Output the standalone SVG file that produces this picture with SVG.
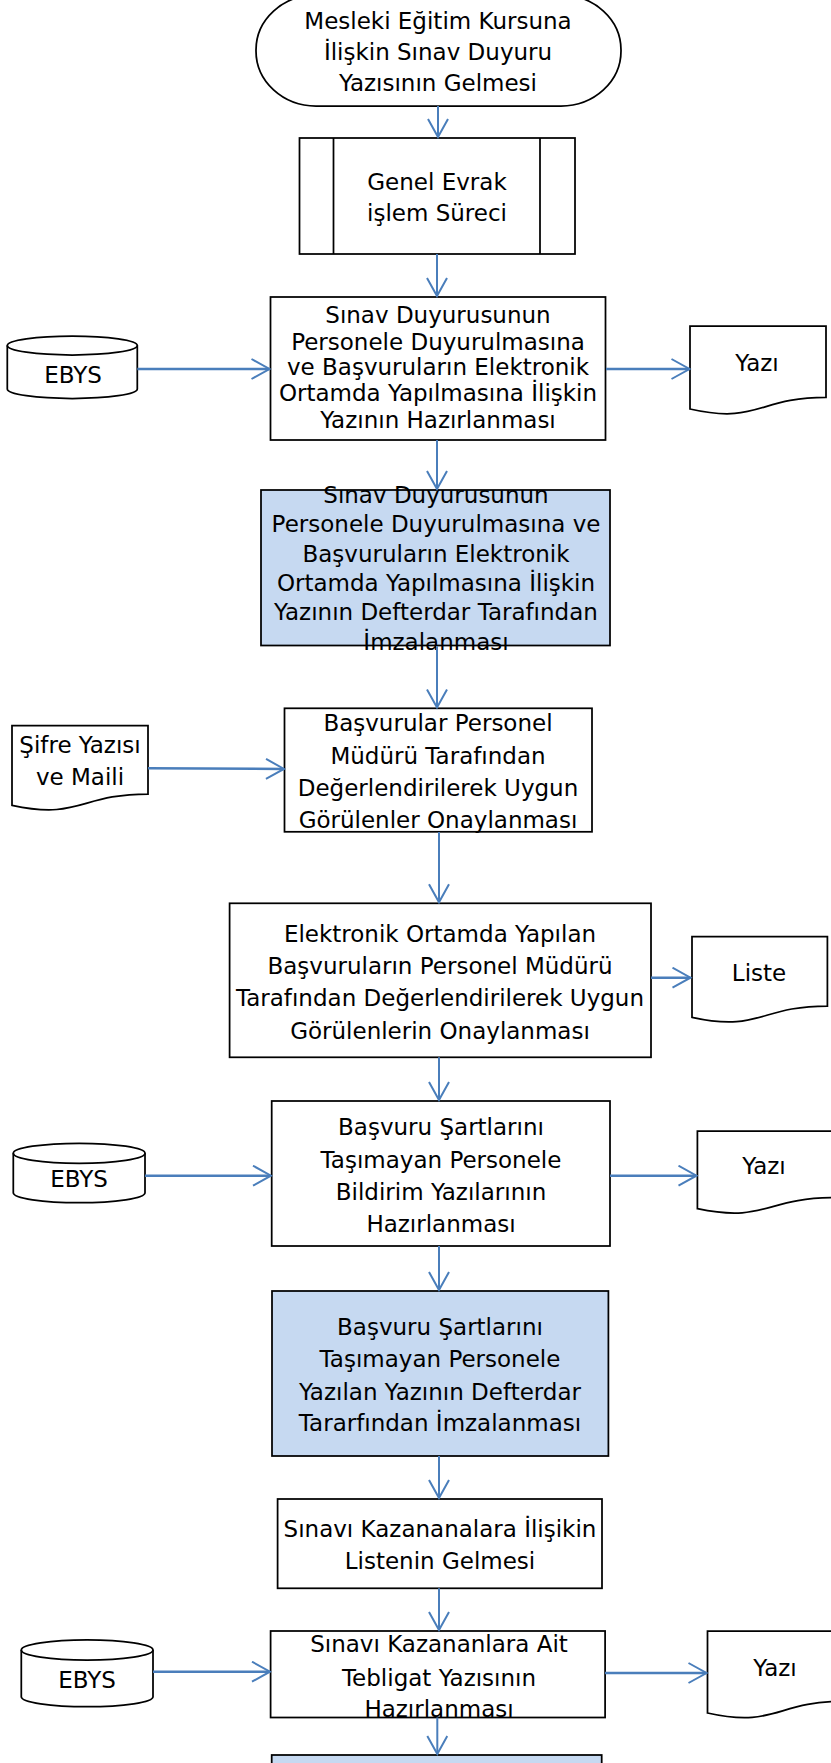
<svg xmlns="http://www.w3.org/2000/svg" width="831" height="1763" viewBox="0 0 831 1763">
<style>
.s{fill:#fff;stroke:#000;stroke-width:1.75}
.b{fill:#C6D9F1;stroke:#000;stroke-width:1.75}
.t{font-family:"DejaVu Sans","Liberation Sans",sans-serif;font-size:23px;fill:#000;text-anchor:middle}
.c{fill:none;stroke:#4A7EBB;stroke-width:2;marker-end:url(#ah)}
.h{stroke-width:2.5}
</style>
<defs>
<marker id="ah" markerUnits="userSpaceOnUse" viewBox="-20 -11 22 22" refX="0" refY="0" markerWidth="22" markerHeight="22" orient="auto">
<path d="M-18,-10 L0,0 L-18,10" fill="none" stroke="#4A7EBB" stroke-width="2"/>
</marker>
</defs>
<g id="n1"><rect class="s" x="256" y="-5" width="365" height="111" rx="60" ry="55"/>
<text class="t" x="438" y="29">Mesleki Eğitim Kursuna</text>
<text class="t" x="438" y="60">İlişkin Sınav Duyuru</text>
<text class="t" x="438" y="91">Yazısının Gelmesi</text></g>
<g id="n2"><rect class="s" x="299.5" y="138" width="275.5" height="116"/>
<line x1="333.5" y1="138" x2="333.5" y2="254" stroke="#000" stroke-width="1.75"/>
<line x1="540" y1="138" x2="540" y2="254" stroke="#000" stroke-width="1.75"/>
<text class="t" x="437" y="190">Genel Evrak</text>
<text class="t" x="437" y="221">işlem Süreci</text></g>
<g id="n3"><rect class="s" x="270.5" y="297" width="335" height="143"/>
<text class="t" x="438" y="323">Sınav Duyurusunun</text>
<text class="t" x="438" y="350">Personele Duyurulmasına</text>
<text class="t" x="438" y="375">ve Başvuruların Elektronik</text>
<text class="t" x="438" y="401">Ortamda Yapılmasına İlişkin</text>
<text class="t" x="438" y="428">Yazının Hazırlanması</text></g>
<g id="ebys1"><path class="s" d="M7.3,345.5 A65,9.5 0 0 1 137.3,345.5 L137.3,389 A65,9.5 0 0 1 7.3,389 Z"/>
<path d="M7.3,345.5 A65,9.5 0 0 0 137.3,345.5" fill="none" stroke="#000" stroke-width="1.75"/>
<text class="t" x="73" y="383">EBYS</text></g>
<g id="yazi1"><path class="s" d="M690,326 H826 V397.3 C758,397.3 758,424.5 690,409 Z"/>
<text class="t" x="757" y="371">Yazı</text></g>
<g id="n4"><rect class="b" x="261" y="490" width="349" height="155.5"/>
<text class="t" x="436" y="503">Sınav Duyurusunun</text>
<text class="t" x="436" y="532">Personele Duyurulmasına ve</text>
<text class="t" x="436" y="562">Başvuruların Elektronik</text>
<text class="t" x="436" y="591">Ortamda Yapılmasına İlişkin</text>
<text class="t" x="436" y="620">Yazının Defterdar Tarafından</text>
<text class="t" x="436" y="650">İmzalanması</text></g>
<g id="sifre"><path class="s" d="M12,725.7 H148 V794 C80,794 80,820 12,805.3 Z"/>
<text class="t" x="80" y="753">Şifre Yazısı</text>
<text class="t" x="80" y="785">ve Maili</text></g>
<g id="n5"><rect class="s" x="284.5" y="708.3" width="307.5" height="123.5"/>
<text class="t" x="438" y="731">Başvurular Personel</text>
<text class="t" x="438" y="764">Müdürü Tarafından</text>
<text class="t" x="438" y="796">Değerlendirilerek Uygun</text>
<text class="t" x="438" y="828">Görülenler Onaylanması</text></g>
<g id="n6"><rect class="s" x="229.6" y="903.3" width="421.4" height="154"/>
<text class="t" x="440" y="942">Elektronik Ortamda Yapılan</text>
<text class="t" x="440" y="974">Başvuruların Personel Müdürü</text>
<text class="t" x="440" y="1006">Tarafından Değerlendirilerek Uygun</text>
<text class="t" x="440" y="1039">Görülenlerin Onaylanması</text></g>
<g id="liste"><path class="s" d="M692,936.7 H827.4 V1006 C759.7,1006 759.7,1032.4 692,1017.4 Z"/>
<text class="t" x="759" y="981">Liste</text></g>
<g id="n7"><rect class="s" x="271.7" y="1101" width="338.3" height="145"/>
<text class="t" x="441" y="1135">Başvuru Şartlarını</text>
<text class="t" x="441" y="1168">Taşımayan Personele</text>
<text class="t" x="441" y="1200">Bildirim Yazılarının</text>
<text class="t" x="441" y="1232">Hazırlanması</text></g>
<g id="ebys2"><path class="s" d="M13.3,1153.3 A65.8,10 0 0 1 145,1153.3 L145,1192.7 A65.8,10 0 0 1 13.3,1192.7 Z"/>
<path d="M13.3,1153.3 A65.8,10 0 0 0 145,1153.3" fill="none" stroke="#000" stroke-width="1.75"/>
<text class="t" x="79" y="1187">EBYS</text></g>
<g id="yazi2"><path class="s" d="M697.4,1131 H833.8 V1197.7 C765.6,1197.7 765.6,1223.1 697.4,1208.7 Z"/>
<text class="t" x="764" y="1174">Yazı</text></g>
<g id="n8"><rect class="b" x="272" y="1291" width="336.4" height="165"/>
<text class="t" x="440" y="1335">Başvuru Şartlarını</text>
<text class="t" x="440" y="1367">Taşımayan Personele</text>
<text class="t" x="440" y="1400">Yazılan Yazının Defterdar</text>
<text class="t" x="440" y="1431">Tararfından İmzalanması</text></g>
<g id="n9"><rect class="s" x="277.6" y="1499" width="324.4" height="89.3"/>
<text class="t" x="440" y="1537">Sınavı Kazananalara İlişikin</text>
<text class="t" x="440" y="1569">Listenin Gelmesi</text></g>
<g id="n10"><rect class="s" x="270.6" y="1631" width="334.5" height="86.5"/>
<text class="t" x="439" y="1652">Sınavı Kazananlara Ait</text>
<text class="t" x="439" y="1686">Tebligat Yazısının</text>
<text class="t" x="439" y="1717">Hazırlanması</text></g>
<g id="ebys3"><path class="s" d="M21.3,1650 A65.8,10 0 0 1 153,1650 L153,1696.7 A65.8,10 0 0 1 21.3,1696.7 Z"/>
<path d="M21.3,1650 A65.8,10 0 0 0 153,1650" fill="none" stroke="#000" stroke-width="1.75"/>
<text class="t" x="87" y="1688">EBYS</text></g>
<g id="yazi3"><path class="s" d="M707.5,1631 H843.5 V1701.4 C775.5,1701.4 775.5,1728.2 707.5,1713 Z"/>
<text class="t" x="775" y="1676">Yazı</text></g>
<g id="n11"><rect class="b" x="271.7" y="1755" width="330" height="30"/></g>
<g id="connectors">
<path class="c" d="M438,106 V137"/>
<path class="c" d="M437,254 V296"/>
<path class="c h" d="M137.3,369 H269.5"/>
<path class="c h" d="M606,369 H689.5"/>
<path class="c" d="M437,440 V489"/>
<path class="c" d="M437,646 V707.5"/>
<path class="c h" d="M148,768.3 L284,769"/>
<path class="c" d="M439,832 V902.3"/>
<path class="c h" d="M651,977.7 H690.5"/>
<path class="c" d="M439,1057.3 V1100"/>
<path class="c h" d="M145,1175.7 H271"/>
<path class="c h" d="M610,1175.7 H696.5"/>
<path class="c" d="M439,1246 V1290"/>
<path class="c" d="M439,1456 V1498"/>
<path class="c" d="M439,1588.3 V1630"/>
<path class="c h" d="M153,1671.7 H270"/>
<path class="c h" d="M605,1673 H706.5"/>
<path class="c" d="M437.3,1717.5 V1754"/>
</g>
</svg>
